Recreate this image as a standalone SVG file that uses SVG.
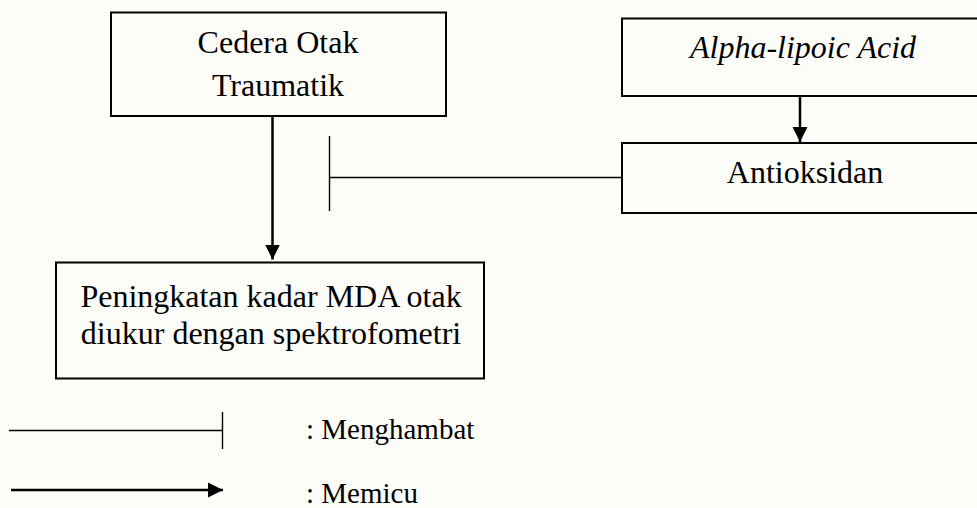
<svg xmlns="http://www.w3.org/2000/svg" width="977" height="508" viewBox="0 0 977 508">
<style>
.box{fill:none;stroke:#000;stroke-width:2}
.t{font-family:"Liberation Serif","Times New Roman",serif;font-size:32px;fill:#000;text-anchor:middle}
.lg{font-family:"Liberation Serif","Times New Roman",serif;font-size:29px;fill:#000}
.arr{stroke:#000;stroke-width:2.5;fill:none}
.inh{stroke:#000;stroke-width:1.4;fill:none}
</style>
<defs>
<marker id="ah" markerUnits="userSpaceOnUse" markerWidth="16" markerHeight="16" viewBox="0 0 16 16" refX="15" refY="8" orient="auto">
<path d="M0,0.5 L15,8 L0,15.5 Z" fill="#000"/>
</marker>
</defs>
<rect width="977" height="508" fill="#fcfdf8"/>
<g id="cedera">
<rect class="box" x="111" y="12.5" width="335" height="103.5"/>
<text class="t" x="278" y="53">Cedera Otak</text>
<text class="t" x="278" y="96">Traumatik</text>
</g>
<g id="alpha">
<rect class="box" x="622" y="18.5" width="370" height="77.5"/>
<text class="t" x="803" y="58" font-style="italic">Alpha-lipoic Acid</text>
</g>
<g id="antioksidan">
<rect class="box" x="622" y="143" width="370" height="70"/>
<text class="t" x="805" y="183">Antioksidan</text>
</g>
<g id="mda">
<rect class="box" x="56" y="262.5" width="428" height="116"/>
<text class="t" x="271" y="307">Peningkatan kadar MDA otak</text>
<text class="t" x="271" y="344">diukur dengan spektrofometri</text>
</g>
<g id="connectors">
<line class="arr" x1="272.5" y1="116" x2="272.5" y2="259.5" marker-end="url(#ah)"/>
<line class="arr" x1="800" y1="96" x2="800" y2="142" marker-end="url(#ah)"/>
<line class="inh" x1="622" y1="177.5" x2="329.5" y2="177.5"/>
<line class="inh" x1="329.5" y1="136" x2="329.5" y2="211"/>
</g>
<g id="legend">
<line class="inh" x1="9" y1="430.5" x2="222.5" y2="430.5"/>
<line class="inh" x1="222.5" y1="412" x2="222.5" y2="449"/>
<text class="lg" x="306" y="438.5">: Menghambat</text>
<line class="arr" x1="11" y1="490" x2="223" y2="490" marker-end="url(#ah)"/>
<text class="lg" x="306" y="503">: Memicu</text>
</g>
</svg>
